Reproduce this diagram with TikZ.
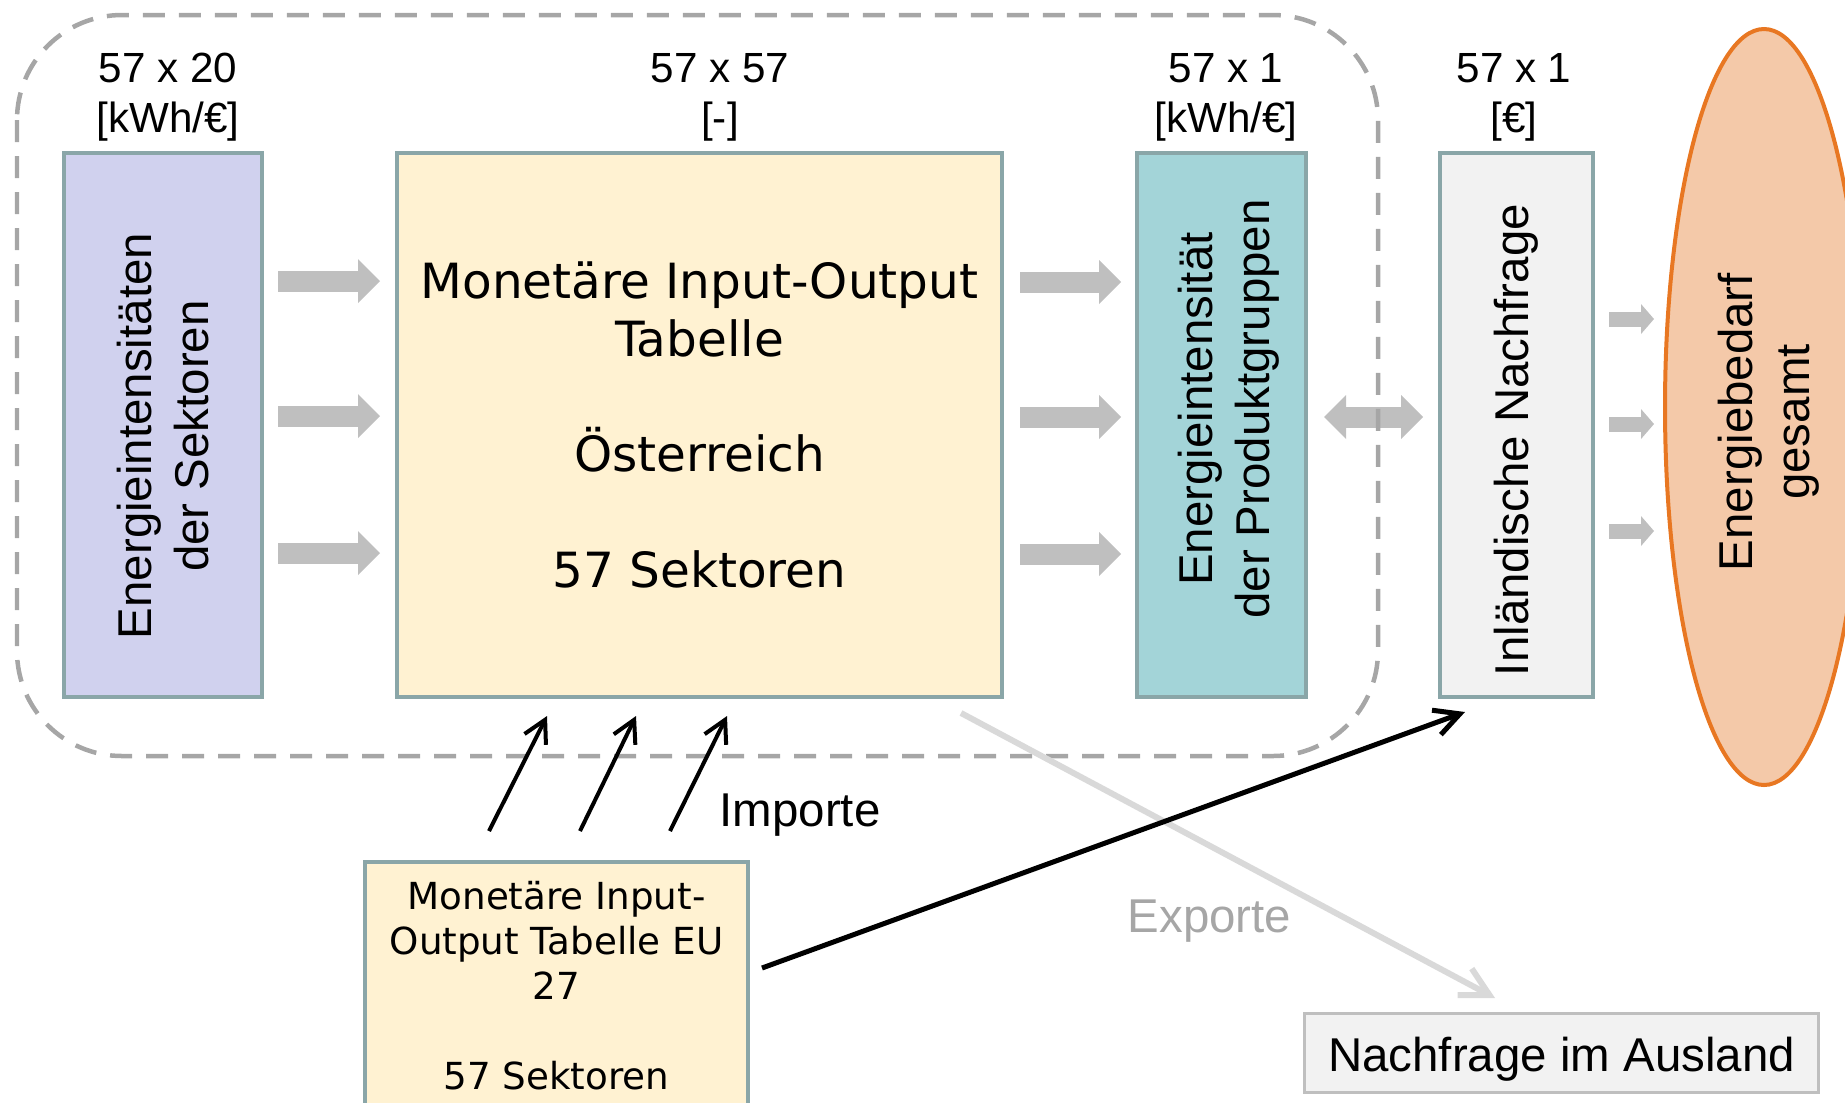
\documentclass[tikz,border=0pt]{standalone}
\usepackage{fontspec}
\setmainfont{Liberation Sans}
\newfontfamily\verd{DejaVu Sans}
\usepackage{xcolor}
\usepackage{tikz}
\usetikzlibrary{arrows.meta,shapes.geometric}

\definecolor{boxline}{HTML}{8AA6A8}
\definecolor{lilac}{HTML}{D0D1EE}
\definecolor{cream}{HTML}{FFF2D2}
\definecolor{tealbox}{HTML}{A3D4D8}
\definecolor{paleg}{HTML}{F2F2F2}
\definecolor{peach}{HTML}{F4C9A9}
\definecolor{orng}{HTML}{E87722}
\definecolor{framegray}{HTML}{A6A6A6}
\definecolor{arrgray}{HTML}{BFBFBF}
\definecolor{expgray}{HTML}{D9D9D9}

\tikzset{
  box/.style={draw=boxline, line width=0.04cm, anchor=north west, inner sep=0pt, minimum height=5.44cm},
  dimlabel/.style={align=center, inner sep=0pt, font=\fontsize{12}{14.2}\selectfont},
  vtext/.style={rotate=90, align=center, inner sep=0pt, font=\fontsize{13.5}{16.3}\selectfont},
  fatarrow/.style={draw=arrgray, line width=0.21cm, -{Triangle[width=0.44cm,length=0.22cm,line width=0pt]}},
  fatdouble/.style={draw=arrgray, line width=0.21cm, {Triangle[width=0.44cm,length=0.22cm,line width=0pt]}-{Triangle[width=0.44cm,length=0.22cm,line width=0pt]}},
  smallarrow/.style={draw=arrgray, line width=0.15cm, -{Triangle[width=0.30cm,length=0.13cm,line width=0pt]}},
  importarrow/.style={line width=0.04cm, -{Straight Barb[length=0.22cm,width=0.24cm]}},
  frame/.style={draw=framegray, line width=0.045cm, dash pattern=on 0.22cm off 0.14cm, rounded corners=1.05cm}
}

\begin{document}
\begin{tikzpicture}
\useasboundingbox (0,0) rectangle (18.45,-11.02);
\clip (0,0) rectangle (18.45,-11.02);

\node[box, fill=lilac, minimum width=1.98cm] (sek) at (0.62,-1.51) {};
\node[box, fill=cream, minimum width=6.05cm, font=\verd\fontsize{13.8}{16.4}\selectfont, align=center] (iot) at (3.95,-1.51)
  {Monetäre Input-Output\\Tabelle\\[16.4pt]Österreich\\[16.4pt]57 Sektoren};
\node[box, fill=tealbox, minimum width=1.69cm] (prod) at (11.35,-1.51) {};
\node[box, fill=paleg, minimum width=1.53cm] (nach) at (14.38,-1.51) {};
\node[ellipse, draw=orng, fill=peach, line width=0.04cm, minimum width=1.98cm, minimum height=7.56cm, inner sep=0pt] (bedarf) at (17.64,-4.07) {};

\node[vtext] (sektxt) at ([shift={(0,-0.11)}]sek.center) {Energieintensitäten\\der Sektoren};
\node[vtext] (prodtxt) at ([shift={(0.07,0.16)}]prod.center) {Energieintensität\\der Produktgruppen};
\node[vtext] (nachtxt) at ([shift={(0,-0.15)}]nach.center) {Inländische Nachfrage};
\node[vtext] (bedtxt) at ([shift={(0.05,-0.15)}]bedarf.center) {Energiebedarf\\gesamt};

\node[dimlabel] (dim1) at (1.68,-0.975) {57 x 20\\{[kWh/€]}};
\node[dimlabel] (dim2) at (7.20,-0.975) {57 x 57\\{[-]}};
\node[dimlabel] (dim3) at (12.26,-0.975) {57 x 1\\{[kWh/€]}};
\node[dimlabel] (dim4) at (15.14,-0.975) {57 x 1\\{[€]}};

\node[box, fill=cream, minimum width=3.83cm, minimum height=2.48cm, font=\verd\fontsize{10.6}{12.8}\selectfont, align=center] (eu) at (3.63,-8.60)
  {Monetäre Input-\\Output Tabelle EU\\27\\[12.8pt]57 Sektoren};
\node[draw=arrgray, fill=paleg, line width=0.03cm, anchor=north west, minimum width=5.14cm, minimum height=0.79cm, inner sep=0pt, text height=0.47cm, font=\fontsize{13.5}{16}\selectfont] (ausland) at (13.03,-10.12) {Nachfrage im Ausland};

\node[anchor=west, inner sep=0pt, font=\fontsize{13.5}{16}\selectfont] (imp) at (7.19,-8.155) {Importe};
\node[anchor=west, inner sep=0pt, text=framegray, font=\fontsize{13.5}{16}\selectfont] (exp) at (11.27,-9.215) {Exporte};

\foreach \dy in {1.44,0.09,-1.28}
  \draw[fatarrow] ([shift={(0.14,\dy)}]sek.east) -- ([shift={(-0.15,\dy)}]iot.west);
\foreach \dy in {1.43,0.08,-1.29}
  \draw[fatarrow] ([shift={(0.16,\dy)}]iot.east) -- ([shift={(-0.14,\dy)}]prod.west);
\draw[fatdouble] ([shift={(0.16,0.08)}]prod.east) -- ([shift={(-0.15,0.08)}]nach.west);
\foreach \dy in {1.06,0.01,-1.06}
  \draw[smallarrow] ([shift={(0.14,\dy)}]nach.east) -- ([shift={(0.59,\dy)}]nach.east);

\draw[frame] (0.17,-0.15) rectangle (13.78,-7.56);

\draw[expgray, line width=0.06cm, -{Straight Barb[length=0.28cm,width=0.30cm]}] ([shift={(-0.43,-0.14)}]iot.south east) -- ([shift={(1.92,0.14)}]ausland.north west);
\draw[line width=0.05cm, -{Straight Barb[length=0.25cm,width=0.26cm]}] ([shift={(0.12,-1.08)}]eu.north east) -- ([shift={(0.27,-0.13)}]nach.south west);
\foreach \s/\t in {-0.675/1.52, 0.235/2.41, 1.135/3.32}
  \draw[importarrow] ([shift={(\s,0.29)}]eu.north) -- ([shift={(\t,-0.17)}]iot.south west);
\end{tikzpicture}
\end{document}
